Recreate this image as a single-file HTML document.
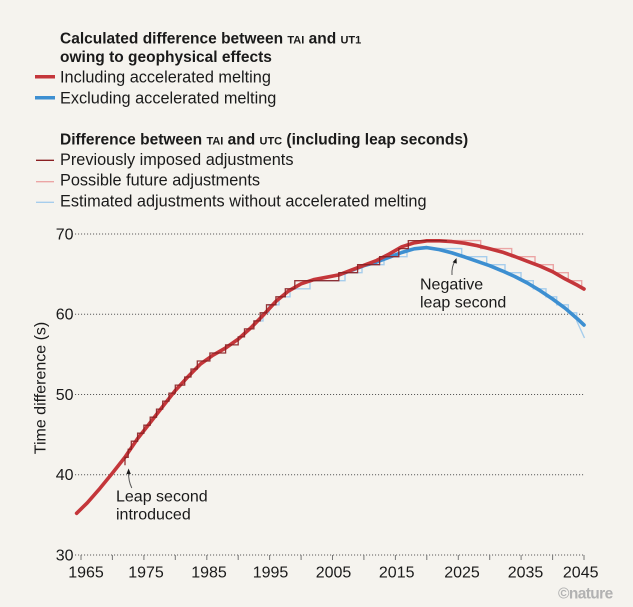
<!DOCTYPE html>
<html><head><meta charset="utf-8"><style>
html,body{margin:0;padding:0;background:#f5f3ee;}
svg{display:block;}
text{font-family:"Liberation Sans",Arial,sans-serif;fill:#1a1a1a;}
</style></head><body>
<svg width="633" height="607" viewBox="0 0 633 607" xmlns="http://www.w3.org/2000/svg">
<rect width="633" height="607" fill="#f5f3ee"/>
<!-- Legend -->
<text x="60" y="43.3" font-size="15.5" font-weight="bold">Calculated difference between <tspan font-size="11">TAI</tspan> and <tspan font-size="11">UT1</tspan></text>
<text x="60" y="62" font-size="15.5" font-weight="bold">owing to geophysical effects</text>
<line x1="35" y1="76.7" x2="55" y2="76.7" stroke="#c4363a" stroke-width="3.5"/>
<text x="60" y="82.3" font-size="16.3">Including accelerated melting</text>
<line x1="35" y1="97.8" x2="55" y2="97.8" stroke="#3d8fd1" stroke-width="3.5"/>
<text x="60" y="103.3" font-size="16.3">Excluding accelerated melting</text>
<text x="60" y="144.3" font-size="15.5" font-weight="bold">Difference between <tspan font-size="11">TAI</tspan> and <tspan font-size="11">UTC</tspan> (including leap seconds)</text>
<line x1="36" y1="160.3" x2="54" y2="160.3" stroke="#8a1f22" stroke-width="1.3"/>
<text x="60" y="165" font-size="16.3">Previously imposed adjustments</text>
<line x1="36" y1="181.7" x2="54" y2="181.7" stroke="#eba5a5" stroke-width="1.3"/>
<text x="60" y="185.7" font-size="16.3">Possible future adjustments</text>
<line x1="36" y1="202.3" x2="54" y2="202.3" stroke="#a6cdec" stroke-width="1.3"/>
<text x="60" y="206.7" font-size="16.3">Estimated adjustments without accelerated melting</text>

<!-- Gridlines -->
<g stroke="#5a5a5a" stroke-width="1.1" stroke-dasharray="1.1 1.9">
<line x1="75" y1="234" x2="585" y2="234"/>
<line x1="75" y1="314.25" x2="585" y2="314.25"/>
<line x1="75" y1="394.5" x2="585" y2="394.5"/>
<line x1="75" y1="474.75" x2="585" y2="474.75"/>
<line x1="75" y1="555" x2="585" y2="555"/>
</g>
<!-- Ticks -->
<g stroke="#777" stroke-width="1">
<line x1="81" y1="555" x2="81" y2="560"/><line x1="112.4" y1="555" x2="112.4" y2="560"/>
<line x1="143.9" y1="555" x2="143.9" y2="560"/><line x1="175.3" y1="555" x2="175.3" y2="560"/>
<line x1="206.8" y1="555" x2="206.8" y2="560"/><line x1="238.2" y1="555" x2="238.2" y2="560"/>
<line x1="269.6" y1="555" x2="269.6" y2="560"/><line x1="301.1" y1="555" x2="301.1" y2="560"/>
<line x1="332.5" y1="555" x2="332.5" y2="560"/><line x1="363.9" y1="555" x2="363.9" y2="560"/>
<line x1="395.4" y1="555" x2="395.4" y2="560"/><line x1="426.8" y1="555" x2="426.8" y2="560"/>
<line x1="458.3" y1="555" x2="458.3" y2="560"/><line x1="489.7" y1="555" x2="489.7" y2="560"/>
<line x1="521.1" y1="555" x2="521.1" y2="560"/><line x1="552.6" y1="555" x2="552.6" y2="560"/>
<line x1="584" y1="555" x2="584" y2="560"/>
</g>
<!-- Y labels -->
<g font-size="16" text-anchor="end">
<text x="73.5" y="239.5">70</text>
<text x="73.5" y="319.7">60</text>
<text x="73.5" y="400">50</text>
<text x="73.5" y="480.2">40</text>
<text x="73.5" y="560.5">30</text>
</g>
<!-- X labels -->
<g font-size="16" text-anchor="middle">
<text x="86" y="577.5">1965</text>
<text x="146" y="577.5">1975</text>
<text x="209" y="577.5">1985</text>
<text x="270.5" y="577.5">1995</text>
<text x="333.5" y="577.5">2005</text>
<text x="396.7" y="577.5">2015</text>
<text x="462" y="577.5">2025</text>
<text x="525.5" y="577.5">2035</text>
<text x="580.7" y="577.5">2045</text>
</g>
<text transform="translate(45.5,388) rotate(-90)" font-size="16" text-anchor="middle">Time difference (s)</text>

<!-- Light blue steps -->
<path d="M253.9,320.9 H263 V312.8 H269 V304.8 H279 V296.8 H290 V288.8 H310 V280.7 H345 V272.7 H362 V264.7 H384 V256.7 H407 V248.6 H461.7 V256.7 H486.7 V264.7 H505 V272.7 H521 V280.7 H533.3 V288.8 H546 V296.8 H556.7 V304.8 H568.3 V312.8 H576.7 V320.9 L584.5,338" fill="none" stroke="#a6cdec" stroke-width="1.4"/>
<!-- Pink future steps -->
<path d="M446.9,240.6 H480.7 V248.6 H511.7 V256.7 H535 V264.7 H553.3 V272.7 H568.3 V280.7 H581.7 V288.8 H584" fill="none" stroke="#eba5a5" stroke-width="1.4"/>
<!-- Blue curve -->
<polyline fill="none" stroke="#3d8fd1" stroke-width="3.6" stroke-linejoin="round" stroke-linecap="round" points="338.8,274.9 351.4,270.4 363.9,265.7 376.5,262.1 389.1,257.3 401.7,252.5 414.2,248.8 426.8,247.6 439.4,249.6 452.0,252.9 464.5,256.9 477.1,261.3 489.7,265.7 502.3,270.9 514.8,276.5 527.4,283.0 540.0,290.6 552.6,299.0 565.1,308.2 577.7,319.1 584.0,325.0"/>
<!-- Red curve -->
<polyline fill="none" stroke="#c4363a" stroke-width="3.6" stroke-linejoin="round" stroke-linecap="round" points="76.6,513.3 87.3,502.8 99.9,488.4 112.4,473.1 125.0,457.1 137.6,438.6 150.2,422.6 162.7,406.5 175.3,390.5 187.9,376.8 200.5,364.0 213.0,355.2 225.6,348.0 238.2,339.1 250.8,327.9 263.3,315.1 275.9,301.4 288.5,291.0 301.1,283.8 313.6,279.7 326.2,277.3 338.8,274.9 351.4,270.1 363.9,265.3 376.5,260.5 389.1,254.1 401.7,246.8 414.2,242.8 426.8,240.8 439.4,240.8 452.0,241.6 464.5,243.2 477.1,245.6 489.7,248.8 502.3,252.1 514.8,256.5 527.4,261.3 540.0,266.1 552.6,271.7 565.1,278.9 577.7,285.4 584.0,289.0"/>
<!-- Dark red historical steps -->
<path d="M125,465.3 V457.3 H128.2 V449.3 H131.3 V441.2 H137.6 V433.2 H143.9 V425.2 H150.2 V417.2 H156.5 V409.1 H162.7 V401.1 H169.0 V393.1 H175.3 V385.1 H184.7 V377.0 H191.0 V369.0 H197.3 V361.0 H209.9 V353.0 H225.6 V344.9 H238.2 V336.9 H244.5 V328.9 H253.9 V320.9 H260.2 V312.8 H266.5 V304.8 H275.9 V296.8 H285.3 V288.8 H294.8 V280.7 H338.8 V272.7 H357.6 V264.7 H379.6 V256.7 H398.8 V248.6 H408.3 V240.6 H446.9" fill="none" stroke="#8a1f22" stroke-width="1.3" opacity="0.9"/>

<!-- Annotations -->
<path d="M131.8,488 Q128.3,481 128.6,472" fill="none" stroke="#555" stroke-width="1"/>
<path d="M128.6,468.5 L126.4,474 L130.8,474 Z" fill="#1a1a1a"/>
<text x="116" y="501.7" font-size="16">Leap second</text>
<text x="116" y="519.3" font-size="16">introduced</text>
<path d="M452,275 Q451.5,266 455,261.5" fill="none" stroke="#555" stroke-width="1"/>
<path d="M456.5,258 L452.6,262.2 L456.8,263.6 Z" fill="#1a1a1a"/>
<text x="420" y="289.7" font-size="16">Negative</text>
<text x="420" y="307.3" font-size="16">leap second</text>

<text x="558" y="598.5" font-size="15.5" font-weight="bold" letter-spacing="-0.6" style="fill:#b2b2b2;">©nature</text>
</svg>
</body></html>
